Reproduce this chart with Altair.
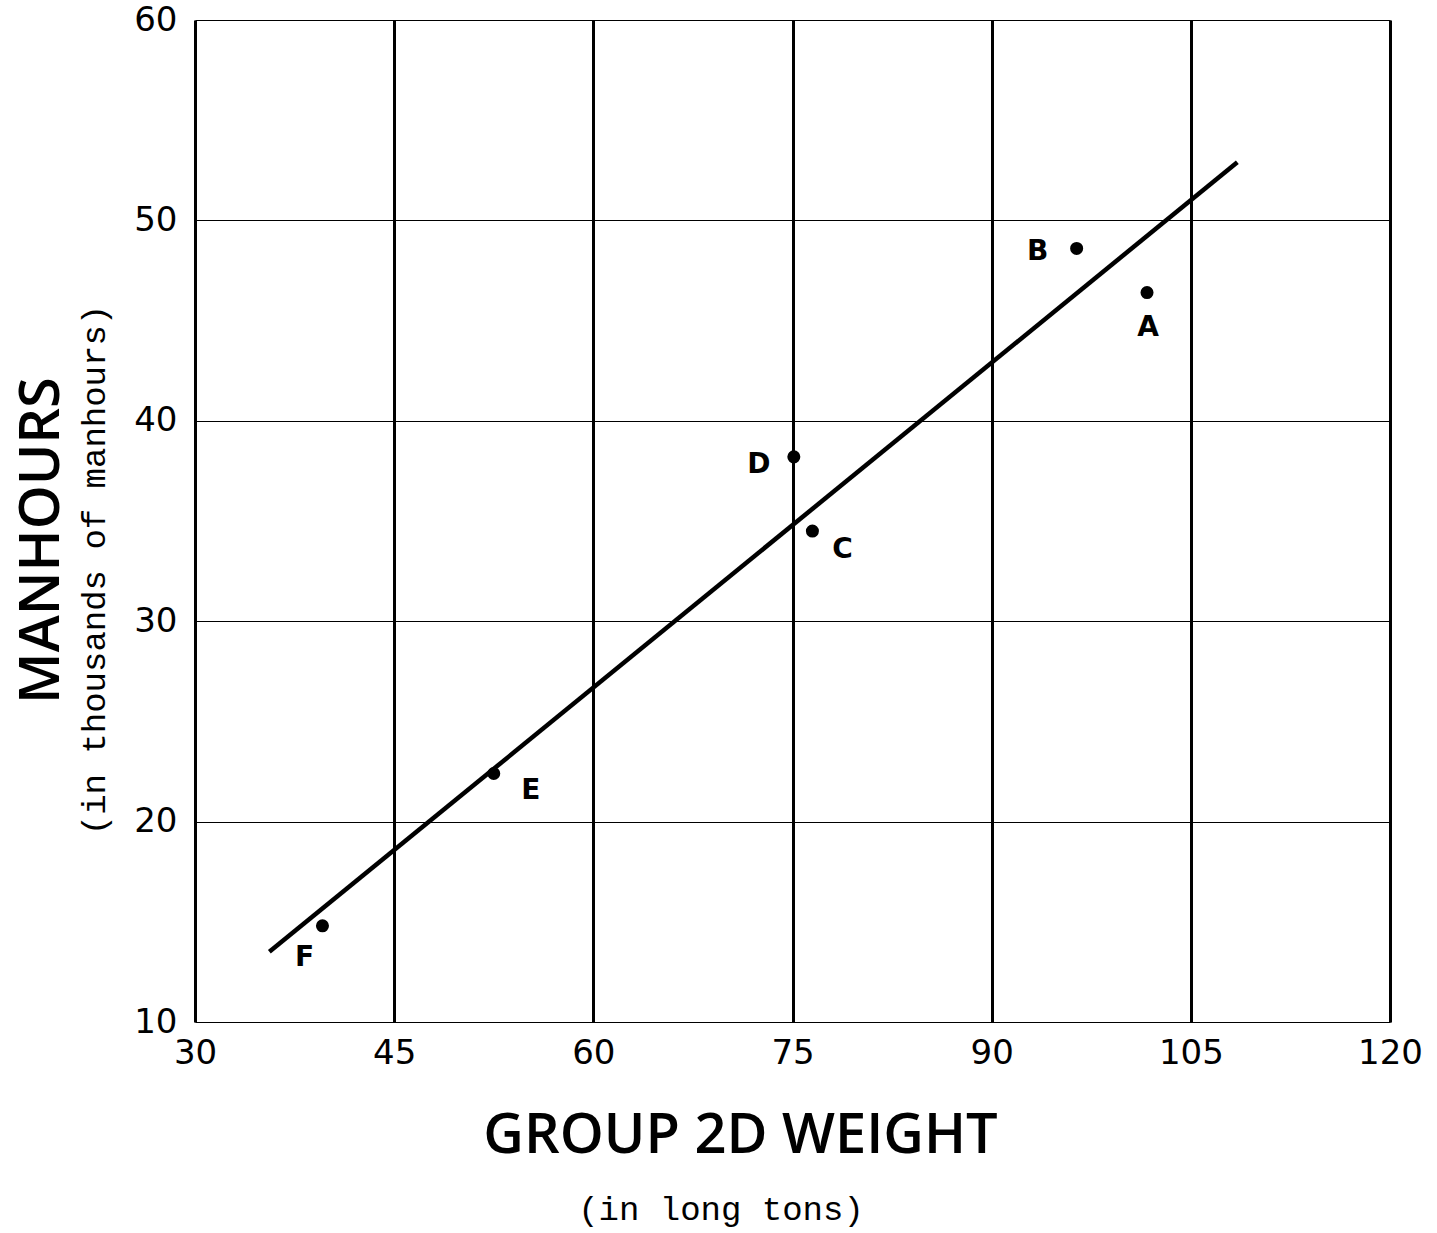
import altair as alt
import pandas as pd

# Ship groups: 2D group weight (long tons) vs. manhours (thousands)
labels = ["A", "B", "C", "D", "E", "F"]
weight = [101.7, 96.4, 76.5, 75.1, 52.5, 39.6]
manhours = [46.4, 48.6, 34.5, 38.2, 22.4, 14.8]

# Fitted trend line end points
fit_weight = [35.6, 108.5]
fit_manhours = [13.5, 52.9]

x_ticks = [30, 45, 60, 75, 90, 105, 120]
y_ticks = [10, 20, 30, 40, 50, 60]

pts = pd.DataFrame({"label": labels, "weight": weight, "manhours": manhours})
fit = pd.DataFrame({"weight": fit_weight, "manhours": fit_manhours})

W, H = 1195, 1002
TICK_FONT = "DejaVu Sans"
TITLE_FONT = "Open Sans"
SUB_FONT = "Liberation Mono, DejaVu Sans Mono, monospace"

xs = alt.Scale(domain=[30, 120], nice=False, zero=False)
ys = alt.Scale(domain=[10, 60], nice=False, zero=False)

x_axis = alt.Axis(values=x_ticks, grid=True, gridColor="black", gridWidth=3,
                  domain=False, ticks=False, labelFontSize=34, labelFont=TICK_FONT,
                  labelColor="black", labelPadding=14, title="GROUP 2D WEIGHT",
                  titleFont=TITLE_FONT, titleFontSize=56, titleFontWeight=600,
                  titleColor="black", titlePadding=38, titleX=545,
                  titleAlign="center", labelFlush=False)
y_axis = alt.Axis(values=y_ticks, grid=True, gridColor="black", gridWidth=1,
                  domain=False, ticks=False, labelFontSize=34, labelFont=TICK_FONT,
                  labelColor="black", labelPadding=18, title="MANHOURS",
                  titleFont=TITLE_FONT, titleFontSize=56, titleFontWeight=600,
                  titleColor="black", titlePadding=63, titleY=520,
                  titleAlign="center", labelFlush=False)

base = alt.Chart(pts)

points = base.mark_circle(size=170, color="black", opacity=1).encode(
    x=alt.X("weight:Q", scale=xs, axis=x_axis),
    y=alt.Y("manhours:Q", scale=ys, axis=y_axis),
)

trend = alt.Chart(fit).mark_line(color="black", strokeWidth=4.5).encode(
    x=alt.X("weight:Q", scale=xs),
    y=alt.Y("manhours:Q", scale=ys),
)

# label placement around each point (pixels)
offsets = {"A": (1, 35), "B": (-39, 4), "C": (30, 19),
           "D": (-35, 8), "E": (37, 17), "F": (-18, 32)}
label_layers = []
for lab, (dx, dy) in offsets.items():
    label_layers.append(
        base.transform_filter(alt.datum.label == lab).mark_text(
            dx=dx, dy=dy, fontSize=28, fontWeight="bold", font="DejaVu Sans",
            color="black", align="center", baseline="middle"
        ).encode(
            x=alt.X("weight:Q", scale=xs),
            y=alt.Y("manhours:Q", scale=ys),
            text="label:N",
        )
    )

x_sub = alt.Chart(pd.DataFrame({"t": ["(in long tons)"]})).mark_text(
    fontSize=34, font=SUB_FONT, color="black", align="center", baseline="middle"
).encode(x=alt.value(526), y=alt.value(1190), text="t:N")

y_sub = alt.Chart(pd.DataFrame({"t": ["(in thousands of manhours)"]})).mark_text(
    fontSize=34, font=SUB_FONT, color="black", align="center", baseline="middle",
    angle=270
).encode(x=alt.value(-100), y=alt.value(550), text="t:N")

chart = alt.layer(trend, points, *label_layers, x_sub, y_sub).properties(
    width=W, height=H,
    padding={"left": 195, "top": 20, "right": 47, "bottom": 211},
    autosize=alt.AutoSizeParams(type="none"),
).configure_view(stroke="black", strokeWidth=1.5).configure(background="white")

chart.save("out.html", embed_options={"renderer": "svg", "actions": False})
